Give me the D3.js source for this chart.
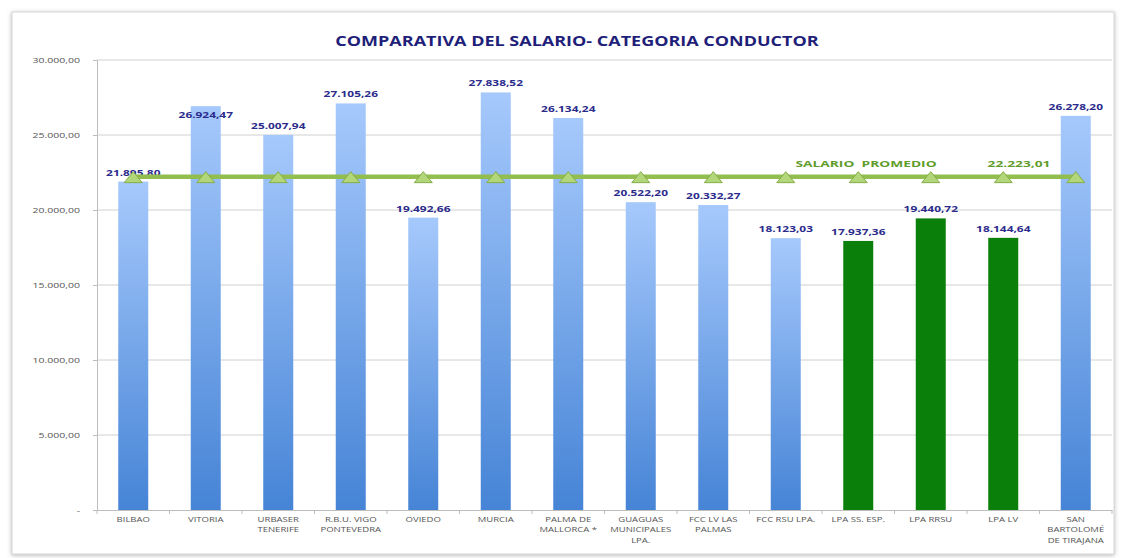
<!DOCTYPE html>
<html>
<head>
<meta charset="utf-8">
<script src="https://cdn.jsdelivr.net/npm/d3@7"></script>
<style>
  body { margin: 0; background: #fff; }
  svg { font-family: "Open Sans", "DejaVu Sans", sans-serif; }
</style>
</head>
<body>
<script>
// chart data
const categories = ["BILBAO", "VITORIA", "URBASER|TENERIFE", "R.B.U. VIGO|PONTEVEDRA", "OVIEDO", "MURCIA",
  "PALMA DE|MALLORCA *", "GUAGUAS|MUNICIPALES|LPA.", "FCC LV LAS|PALMAS", "FCC RSU LPA.",
  "LPA SS. ESP.", "LPA RRSU", "LPA LV", "SAN|BARTOLOMÉ|DE TIRAJANA"];
const salaries = [21895.80, 26924.47, 25007.94, 27105.26, 19492.66, 27838.52, 26134.24,
  20522.20, 20332.27, 18123.03, 17937.36, 19440.72, 18144.64, 26278.20];
const highlighted = [false, false, false, false, false, false, false, false, false, false, true, true, true, false];
const average = 22223.01;
const yTicks = [0, 5000, 10000, 15000, 20000, 25000, 30000];

const w = 1122, h = 558;
const margin = {left: 97, right: 10, top: 60, bottom: 48};
const stretch = 1.4; // the source picture is stretched sideways

const fmt = d3.formatLocale({decimal: ",", thousands: ".", grouping: [3], currency: ["", ""]}).format(",.2f");

const svg = d3.select("body").append("svg")
  .attr("width", w).attr("height", h);

const defs = svg.append("defs");
const grad = defs.append("linearGradient").attr("id", "barGrad")
  .attr("x1", 0).attr("y1", 0).attr("x2", 0).attr("y2", 1);
grad.append("stop").attr("offset", "0%").attr("stop-color", "#a6c9fc");
grad.append("stop").attr("offset", "100%").attr("stop-color", "#4684d6");
const shadow = defs.append("filter").attr("id", "shadow")
  .attr("x", "-5%").attr("y", "-5%").attr("width", "110%").attr("height", "110%");
shadow.append("feDropShadow").attr("dx", 0).attr("dy", 1).attr("stdDeviation", 2)
  .attr("flood-color", "#888").attr("flood-opacity", 0.6);

// outer frame
svg.append("rect")
  .attr("x", 12).attr("y", 12).attr("width", w - 20).attr("height", h - 16)
  .attr("fill", "#fff").attr("stroke", "#d6d6d6").attr("filter", "url(#shadow)");

const xScale = d3.scaleBand()
  .domain(d3.range(categories.length))
  .range([margin.left, w - margin.right]);
const cx = i => xScale(i) + xScale.bandwidth() / 2;

const yScale = d3.scaleLinear()
  .domain([0, 30000])
  .range([h - margin.bottom, margin.top]);

// title
svg.append("text")
  .attr("transform", `translate(577,46) scale(1.2,1)`)
  .attr("text-anchor", "middle")
  .attr("font-size", "15px").attr("font-weight", "bold")
  .attr("fill", "#1f1f7a")
  .text("COMPARATIVA DEL SALARIO- CATEGORIA CONDUCTOR");

// gridlines
svg.append("g").selectAll("line")
  .data(yTicks.filter(d => d > 0))
  .join("line")
  .attr("x1", margin.left).attr("x2", w - margin.right)
  .attr("y1", d => yScale(d)).attr("y2", d => yScale(d))
  .attr("stroke", "#d0d0d0").attr("stroke-width", 1);

// y axis
const yAxis = svg.append("g")
  .attr("transform", `translate(${margin.left},0)`)
  .call(d3.axisLeft(yScale).tickValues(yTicks).tickSize(4)
    .tickFormat(d => d === 0 ? "-" : fmt(d)));
yAxis.select(".domain").attr("stroke", "#bdbdbd");
yAxis.selectAll(".tick line").attr("stroke", "#bdbdbd");
yAxis.selectAll(".tick text")
  .attr("x", -17 / stretch)
  .attr("transform", `scale(${stretch},1)`)
  .attr("font-size", "7.5px").attr("fill", "#555")
  .attr("font-family", "Open Sans, sans-serif");

// x axis
const xAxis = svg.append("g")
  .attr("transform", `translate(0,${yScale(0)})`)
  .call(d3.axisBottom(xScale).tickSize(0).tickFormat(""));
xAxis.select(".domain").attr("stroke", "#bdbdbd");
svg.append("g").selectAll("line")
  .data(d3.range(categories.length + 1))
  .join("line")
  .attr("x1", i => margin.left + i * xScale.step())
  .attr("x2", i => margin.left + i * xScale.step())
  .attr("y1", yScale(0)).attr("y2", yScale(0) + 4)
  .attr("stroke", "#bdbdbd");

const xLabels = svg.append("g").selectAll("text")
  .data(categories)
  .join("text")
  .attr("text-anchor", "middle")
  .attr("font-size", "6.8px").attr("fill", "#555")
  .attr("transform", (d, i) => `translate(${cx(i)},${yScale(0) + 12}) scale(${stretch},1)`);
xLabels.each(function(d) {
  d3.select(this).selectAll("tspan")
    .data(d.split("|"))
    .join("tspan")
    .attr("x", 0)
    .attr("dy", (t, j) => j === 0 ? 0 : 10.5)
    .text(t => t);
});

// bars
const barW = 30;
svg.append("g").selectAll("rect")
  .data(salaries)
  .join("rect")
  .attr("x", (d, i) => cx(i) - barW / 2)
  .attr("y", d => yScale(d))
  .attr("width", barW)
  .attr("height", d => yScale(0) - yScale(d))
  .attr("fill", (d, i) => highlighted[i] ? "#0a7f0a" : "url(#barGrad)");

// bar value labels (VITORIA's label sits over the bar top in the source)
svg.append("g").selectAll("text")
  .data(salaries)
  .join("text")
  .attr("transform", (d, i) => `translate(${cx(i)},${yScale(d) + (i === 1 ? 12 : -6)}) scale(${stretch},1)`)
  .attr("text-anchor", "middle")
  .attr("font-size", "8.5px").attr("font-weight", "bold")
  .attr("fill", "#2b2b8c")
  .text(d => fmt(d));

// average line
const avgY = yScale(average);
svg.append("line")
  .attr("x1", cx(0)).attr("x2", cx(categories.length - 1))
  .attr("y1", avgY).attr("y2", avgY)
  .attr("stroke", "#92bd4f").attr("stroke-width", 4.5);

const triPath = "M0,-6L9,5L-9,5Z";
svg.append("g").selectAll("path")
  .data(categories)
  .join("path")
  .attr("d", triPath)
  .attr("transform", (d, i) => `translate(${cx(i)},${avgY + 1})`)
  .attr("fill", "#b2d67a").attr("stroke", "#86ad47").attr("stroke-width", 1);

svg.append("text")
  .attr("transform", `translate(866,${avgY - 10}) scale(1.45,1)`)
  .attr("text-anchor", "middle")
  .attr("font-size", "9.5px").attr("font-weight", "bold")
  .attr("fill", "#5f9c2c")
  .attr("xml:space", "preserve")
  .text("SALARIO  PROMEDIO");

svg.append("text")
  .attr("transform", `translate(1019,${avgY - 10}) scale(1.45,1)`)
  .attr("text-anchor", "middle")
  .attr("font-size", "9.5px").attr("font-weight", "bold")
  .attr("fill", "#5f9c2c")
  .text(fmt(average));
</script>
</body>
</html>
